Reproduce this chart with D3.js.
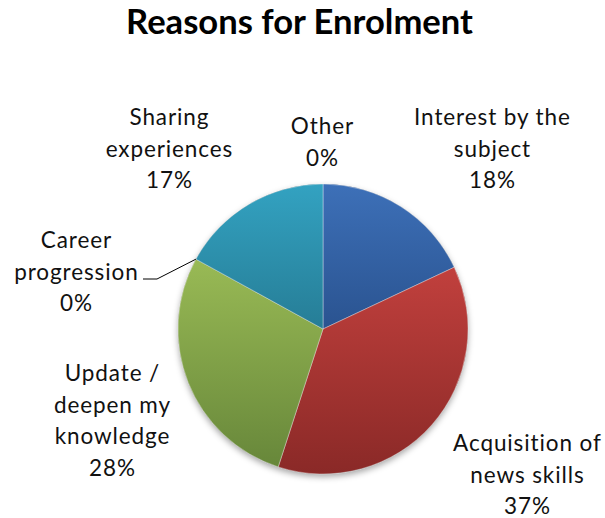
<!DOCTYPE html>
<html>
<head>
<meta charset="utf-8">
<script src="https://cdn.jsdelivr.net/npm/d3@7"></script>
<style>
  html, body { margin: 0; padding: 0; background: #ffffff; }
  svg { display: block; }
</style>
</head>
<body>
<svg id="chart" width="605" height="518"></svg>
<script>
// ---- data ----
const categories = ["Interest by the subject", "Acquisition of news skills", "Update / deepen my knowledge", "Career progression", "Sharing experiences", "Other"];
const values = [18, 37, 28, 0, 17, 0];
const percentLabels = ["18%", "37%", "28%", "0%", "17%", "0%"];
const labelLines = [
  ["Interest by the", "subject", "18%"],
  ["Acquisition of", "news skills", "37%"],
  ["Update /", "deepen my", "knowledge", "28%"],
  ["Career", "progression", "0%"],
  ["Sharing", "experiences", "17%"],
  ["Other", "0%"]
];
const chartTitle = "Reasons for Enrolment";

// ---- style ----
const topColors = ["#3d70b8", "#c1403d", "#99ba55", "#99ba55", "#33a2c1", "#33a2c1"];
const bottomColors = ["#2a5390", "#8a2927", "#67873a", "#67873a", "#267d96", "#267d96"];
// label anchor (centre x, first baseline)
const labelPos = [
  [492, 125], [527, 451], [112, 381], [76, 248], [169, 125], [322, 134]
];
const lineH = 31.6;

const svg = d3.select("#chart");
const cx = 323, cy = 329, R = 145;

const defs = svg.append("defs");
const f = defs.append("filter").attr("id", "shadow")
  .attr("x", "-10%").attr("y", "-10%").attr("width", "120%").attr("height", "125%");
f.append("feDropShadow").attr("dx", 0).attr("dy", 3).attr("stdDeviation", 3)
  .attr("flood-color", "#000").attr("flood-opacity", 0.35);

values.forEach((v, i) => {
  const g = defs.append("linearGradient").attr("id", "grad" + i)
    .attr("x1", 0).attr("y1", 0).attr("x2", 0).attr("y2", 1);
  g.append("stop").attr("offset", "0%").attr("stop-color", topColors[i]);
  g.append("stop").attr("offset", "100%").attr("stop-color", bottomColors[i]);
});

// title
const title = svg.append("text")
  .attr("x", 299.5).attr("y", 34)
  .attr("text-anchor", "middle")
  .attr("font-family", "Lato, sans-serif")
  .attr("font-weight", "bold")
  .attr("font-size", 30)
  .attr("fill", "#000")
  .text(chartTitle);
{
  const target = 347;
  const w = title.node().getComputedTextLength();
  title.attr("font-size", 30 * target / w);
}

const pie = d3.pie().sort(null).value(d => d);
const arcs = pie(values);
const arc = d3.arc().innerRadius(0).outerRadius(R);

const pieG = svg.append("g").attr("transform", `translate(${cx},${cy})`);
pieG.append("circle").attr("r", R).attr("fill", "#777").attr("filter", "url(#shadow)");
pieG.selectAll("path.slice")
  .data(arcs.filter(a => a.data > 0))
  .enter().append("path")
  .attr("class", "slice")
  .attr("d", arc)
  .attr("fill", d => `url(#grad${d.index})`)
  .attr("stroke", "rgba(255,255,255,0.45)")
  .attr("stroke-width", 0.8);

// labels
const labelsG = svg.append("g")
  .attr("font-family", "Lato, sans-serif")
  .attr("font-size", 22.5)
  .attr("letter-spacing", "0.9px")
  .attr("fill", "#111");
labelLines.forEach((lines, i) => {
  const t = labelsG.append("text").attr("text-anchor", "middle");
  lines.forEach((ln, j) => {
    t.append("tspan").attr("x", labelPos[i][0] + 0.45).attr("y", labelPos[i][1] + j * lineH).text(ln);
  });
});

// leader line for Career progression (0%)
{
  const a = arcs[3].startAngle;
  const ex = cx + R * Math.sin(a), ey = cy - R * Math.cos(a);
  svg.append("path")
    .attr("d", `M143,279 L157,279 L${ex},${ey}`)
    .attr("fill", "none").attr("stroke", "#000").attr("stroke-width", 1);
}
</script>
</body>
</html>
